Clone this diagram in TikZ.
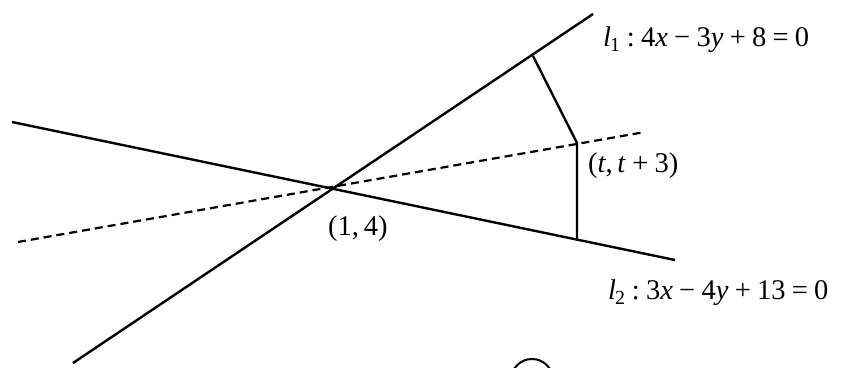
\documentclass[tikz,border=0pt]{standalone}
\usepackage{fontspec}
\setmainfont{Liberation Serif}
\newcommand{\gp}{\hspace{0.22em}}
\begin{document}
\begin{tikzpicture}[x=1pt,y=-1pt, line width=2.4pt,
  lbl/.style={font=\fontsize{28.5}{33}\selectfont, inner sep=0pt},
  dashline/.style={line width=2.2pt, dash pattern=on 8pt off 5pt}]
\useasboundingbox (0,0) rectangle (842,367);
% lines
\coordinate (l1a) at (73,363);
\coordinate (l1b) at (593,14);
\coordinate (l2a) at (12,122);
\coordinate (l2b) at (675,260);
\coordinate (da) at (18,242);
\coordinate (db) at (645,132);
\coordinate (P) at (577,143);
\coordinate (F) at (533,56);
\coordinate (G) at (577,240);
\draw (l1a) -- (l1b);
\draw (l2a) -- (l2b);
\draw[dashline] (da) -- (db);
\draw (F) -- (P) -- (G);
% labels
\node[lbl, anchor=west] (t1) at (602,40) {\textit{l}\kern-1pt\textsubscript{1}\gp:\gp4\textit{x}\gp−\gp3\textit{y}\gp+\gp8\gp=\gp0};
\node[lbl, anchor=west] (t2) at (607,293) {\textit{l}\kern-1pt\textsubscript{2}\gp:\gp3\textit{x}\gp−\gp4\textit{y}\gp+\gp13\gp=\gp0};
\node[lbl, anchor=west] (tp) at (587,166) {(\textit{t},\,\textit{t}\gp+\gp3)};
\node[lbl, anchor=west] (tq) at (327,229) {(1,\,4)};
% partial circle at bottom edge
\begin{scope}
\clip (0,0) rectangle (842,367);
\node[circle, draw, line width=2pt, minimum size=42pt, inner sep=0pt] (c) at (532,380) {};
\end{scope}
\end{tikzpicture}
\end{document}
